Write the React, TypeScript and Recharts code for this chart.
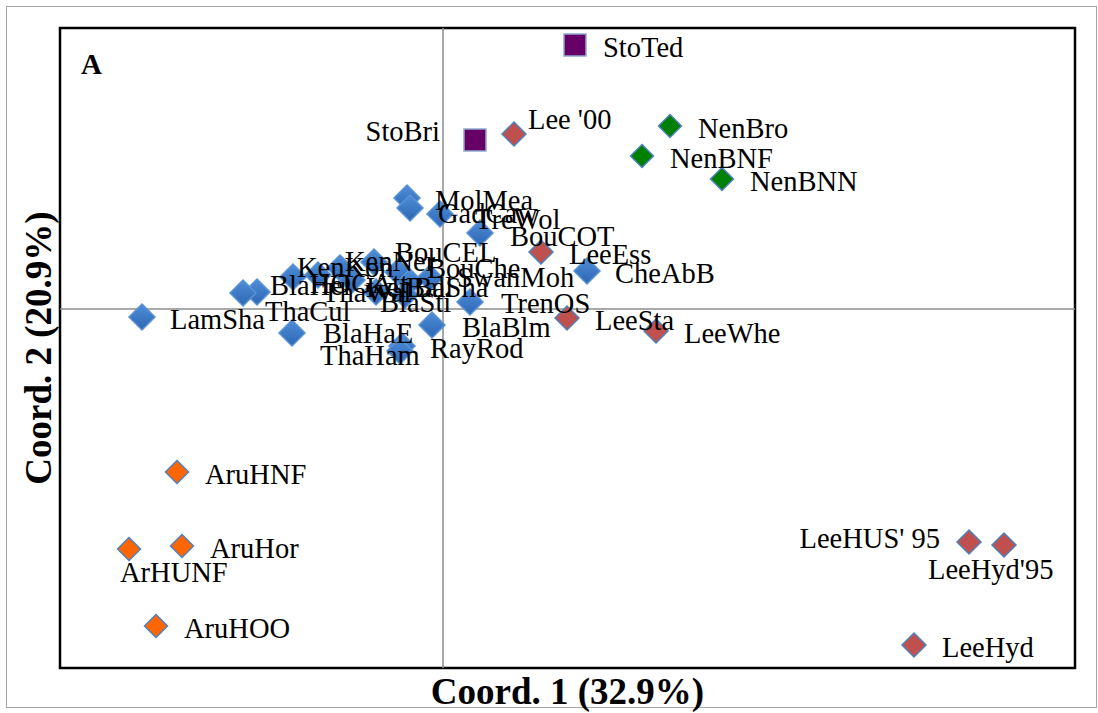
import { ScatterChart, Scatter, XAxis, YAxis, ReferenceLine, ReferenceArea } from "recharts";

// axis ranges of the ordination plane
const X_RANGE: [number, number] = [-3.83, 6.32];
const Y_RANGE: [number, number] = [-3.59, 2.81];

// main cluster
const blueNames = [
  "MolMea", "GadCaw", "TreWol", "BouCOT", "CheAbB", "BouCEL", "BouChe", "KenKon",
  "KenNer", "BlaHel", "ThaCul", "HOGAtt", "ThaWal", "KenBal", "BalSha", "SwanMoh",
  "BlaSti", "TrenOS", "BlaBlm", "RayRod", "ThaHam", "BlaHaE", "LamSha",
];
const blueX = [-0.36, -0.33, -0.03, 0.37, 1.44, -0.69, -0.45, -1.5, -1.03, -1.86, -2.0, -1.25, -0.91, -0.67, -0.33, -0.13, -0.38, 0.27, -0.11, -0.41, -0.43, -1.51, -3.01];
const blueY = [1.11, 1.01, 0.95, 0.76, 0.38, 0.47, 0.37, 0.32, 0.41, 0.17, 0.16, 0.34, 0.29, 0.17, 0.27, 0.31, 0.14, 0.07, -0.16, -0.37, -0.42, -0.24, -0.08];

// Lee samples
const redNames = ["Lee '00", "LeeEss", "LeeSta", "LeeWhe", "LeeHUS' 95", "LeeHyd'95", "LeeHyd"];
const redX = [0.71, 0.98, 1.24, 2.13, 5.26, 5.61, 4.71];
const redY = [1.75, 0.57, -0.09, -0.22, -2.33, -2.36, -3.36];

// Nen samples
const greenNames = ["NenBro", "NenBNF", "NenBNN"];
const greenX = [2.27, 1.99, 2.79];
const greenY = [1.83, 1.53, 1.3];

// Aru samples
const orangeNames = ["AruHNF", "AruHor", "ArHUNF", "AruHOO"];
const orangeX = [-2.66, -2.61, -3.14, -2.87];
const orangeY = [-1.63, -2.37, -2.4, -3.17];

// Sto samples (squares)
const purpleNames = ["StoTed", "StoBri"];
const purpleX = [1.32, 0.32];
const purpleY = [2.64, 1.69];

// label placement relative to the marker centre (default: to the right)
const LABEL_NUDGE: Record<string, { dx: number; dy: number; anchor?: "start" | "end" }> = {
  StoBri: { dx: -35, dy: -9, anchor: "end" },
  "Lee '00": { dx: 14, dy: -15 },
  "LeeHUS' 95": { dx: -29, dy: -4, anchor: "end" },
  "LeeHyd'95": { dx: -76, dy: 24 },
  ArHUNF: { dx: -9, dy: 23 },
  GadCaw: { dx: 28, dy: 5 },
  TreWol: { dx: 35, dy: 5 },
  BouCOT: { dx: 30, dy: 3 },
  BouCEL: { dx: 21, dy: -10 },
  BouChe: { dx: 29, dy: -4 },
  KenKon: { dx: 4, dy: -10 },
  KenNer: { dx: 5, dy: -7 },
  BlaHel: { dx: 13, dy: -7 },
  ThaCul: { dx: 22, dy: 18 },
  HOGAtt: { dx: -8, dy: 8 },
  ThaWal: { dx: -30, dy: 12 },
  KenBal: { dx: -10, dy: -5 },
  BalSha: { dx: -4, dy: 5 },
  SwanMoh: { dx: 27, dy: -1 },
  BlaSti: { dx: -25, dy: 7 },
  TrenOS: { dx: 31, dy: 1 },
  BlaBlm: { dx: 30, dy: 2 },
  ThaHam: { dx: -80, dy: 4 },
  BlaHaE: { dx: 31, dy: 0 },
};

const FONT = "'Liberation Serif', 'Times New Roman', serif";

const toPoints = (names: string[], xs: number[], ys: number[]) =>
  names.map((name, i) => ({ name, x: xs[i], y: ys[i] }));

const bluePts = toPoints(blueNames, blueX, blueY);
const redPts = toPoints(redNames, redX, redY);
const greenPts = toPoints(greenNames, greenX, greenY);
const orangePts = toPoints(orangeNames, orangeX, orangeY);
const purplePts = toPoints(purpleNames, purpleX, purpleY);
const allPts = [...bluePts, ...redPts, ...greenPts, ...orangePts, ...purplePts];

const diamond = (fill: string, stroke: string, r: number) => (p: any) => {
  const { cx, cy } = p;
  return (
    <path
      d={`M${cx},${cy - r}L${cx + r},${cy}L${cx},${cy + r}L${cx - r},${cy}Z`}
      fill={fill}
      stroke={stroke}
      strokeWidth={1.5}
    />
  );
};

const square = (p: any) => {
  const { cx, cy } = p;
  return <rect x={cx - 11} y={cy - 11} width={22} height={22} fill="#660066" stroke="#8FA8D0" strokeWidth={1.5} />;
};

const sampleLabel = (p: any) => {
  const { cx, cy, payload } = p;
  const n = LABEL_NUDGE[payload.name] || { dx: 28, dy: 2 };
  return (
    <text
      x={cx + n.dx}
      y={cy + n.dy}
      textAnchor={n.anchor || "start"}
      dominantBaseline="central"
      fontFamily={FONT}
      fontSize={28.5}
      fill="#000"
    >
      {payload.name}
    </text>
  );
};

export default function App() {
  return (
    <div style={{ position: "relative", width: 1098, height: 713, background: "#fff" }}>
      <style>{`body{margin:0}`}</style>
      <div
        style={{
          position: "absolute",
          left: 6,
          top: 6,
          width: 1089,
          height: 700,
          border: "1.5px solid #A6A6A6",
          pointerEvents: "none",
        }}
      />
      <ScatterChart width={1098} height={713} margin={{ top: 28, right: 23, bottom: 0, left: 0 }}>
        <defs>
          <linearGradient id="blueFill" x1="0" y1="0" x2="0" y2="1">
            <stop offset="0%" stopColor="#4F8ED9" />
            <stop offset="100%" stopColor="#2C66B3" />
          </linearGradient>
        </defs>
        <XAxis
          type="number"
          dataKey="x"
          domain={X_RANGE}
          allowDataOverflow
          tick={false}
          tickLine={false}
          axisLine={false}
          height={45}
          label={{
            content: ({ viewBox }: any) => (
              <text
                x={viewBox.x + viewBox.width / 2}
                y={viewBox.y + 23}
                textAnchor="middle"
                dominantBaseline="central"
                fontFamily={FONT}
                fontWeight="bold"
                fontSize={37}
              >
                Coord. 1 (32.9%)
              </text>
            ),
          }}
        />
        <YAxis
          type="number"
          dataKey="y"
          domain={Y_RANGE}
          allowDataOverflow
          tick={false}
          tickLine={false}
          axisLine={false}
          width={60}
          label={{
            content: ({ viewBox }: any) => {
              const cx = 38;
              const cy = viewBox.y + viewBox.height / 2;
              return (
                <text
                  x={cx}
                  y={cy}
                  transform={`rotate(-90, ${cx}, ${cy})`}
                  textAnchor="middle"
                  dominantBaseline="central"
                  fontFamily={FONT}
                  fontWeight="bold"
                  fontSize={37}
                >
                  Coord. 2 (20.9%)
                </text>
              );
            },
          }}
        />
        <ReferenceLine x={0} stroke="#8C8C8C" strokeWidth={1.5} />
        <ReferenceLine y={0} stroke="#8C8C8C" strokeWidth={1.5} />
        <ReferenceArea
          x1={X_RANGE[0]}
          x2={X_RANGE[1]}
          y1={Y_RANGE[0]}
          y2={Y_RANGE[1]}
          ifOverflow="visible"
          fill="none"
          fillOpacity={0}
          stroke="#000"
          strokeWidth={2.5}
          label={{
            content: ({ viewBox }: any) => (
              <text
                x={viewBox.x + 21}
                y={viewBox.y + 36}
                dominantBaseline="central"
                fontFamily={FONT}
                fontWeight="bold"
                fontSize={29}
              >
                A
              </text>
            ),
          }}
        />
        <Scatter data={bluePts} shape={diamond("url(#blueFill)", "#5A92D6", 13)} isAnimationActive={false} />
        <Scatter data={redPts} shape={diamond("#C0504D", "#4F81BD", 12)} isAnimationActive={false} />
        <Scatter data={greenPts} shape={diamond("#008000", "#4F81BD", 11.5)} isAnimationActive={false} />
        <Scatter data={orangePts} shape={diamond("#FF6600", "#4F81BD", 11.5)} isAnimationActive={false} />
        <Scatter data={purplePts} shape={square} isAnimationActive={false} />
        <Scatter data={allPts} shape={sampleLabel} isAnimationActive={false} />
      </ScatterChart>
    </div>
  );
}
